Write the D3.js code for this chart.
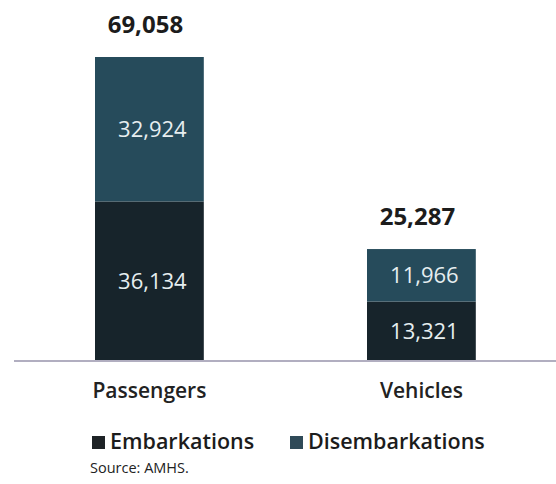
<!DOCTYPE html>
<html>
<head>
<meta charset="utf-8">
<script src="https://cdn.jsdelivr.net/npm/d3@7"></script>
<style>
  html, body { margin: 0; padding: 0; background: #ffffff; }
  svg { display: block; }
  text { font-family: "Open Sans", "Noto Sans", sans-serif; }
</style>
</head>
<body>
<svg id="chart" width="556" height="484"></svg>
<script>
const categories = ["Passengers", "Vehicles"];
const seriesNames = ["Embarkations", "Disembarkations"];
const embarkations = [36134, 13321];
const disembarkations = [32924, 11966];
const totals = [69058, 25287];
const sourceNote = "Source: AMHS.";

const colors = { Embarkations: "#17242b", Disembarkations: "#264b5b" };

const svg = d3.select("#chart");
const baseY = 360;

const rows = categories.map((c, i) => ({
  category: c,
  Embarkations: embarkations[i],
  Disembarkations: disembarkations[i],
  total: totals[i]
}));

const x = d3.scaleBand().domain(categories).range([95, 475.8]).paddingInner(0.6).paddingOuter(0);
const y = d3.scaleLinear().domain([0, d3.max(totals)]).range([baseY, 57]);

const stack = d3.stack().keys(seriesNames);
const layers = stack(rows);

const g = svg.append("g");
layers.forEach(layer => {
  const key = layer.key;
  g.selectAll(null).data(layer).enter().append("rect")
    .attr("x", d => x(d.data.category))
    .attr("width", x.bandwidth())
    .attr("y", d => y(d[1]))
    .attr("height", d => y(d[0]) - y(d[1]))
    .attr("fill", colors[key]);
  g.selectAll(null).data(layer).enter().append("text")
    .attr("x", d => x(d.data.category) + x.bandwidth() / 2 + 3)
    .attr("y", d => (y(d[0]) + y(d[1])) / 2)
    .attr("dy", "0.36em")
    .attr("text-anchor", "middle")
    .attr("font-size", 22)
    .attr("fill", "#e6eef0")
    .text(d => d3.format(",")(d.data[key]));
});

// totals
g.selectAll(null).data(rows).enter().append("text")
  .attr("x", d => x(d.category) + x.bandwidth() / 2 - 4)
  .attr("y", d => y(d.total) - 24)
  .attr("text-anchor", "middle")
  .attr("font-size", 24)
  .attr("font-weight", "bold")
  .attr("fill", "#1c1c1c")
  .text(d => d3.format(",")(d.total));

// baseline axis
svg.append("line")
  .attr("x1", 14).attr("x2", 556)
  .attr("y1", 361).attr("y2", 361)
  .attr("stroke", "#9793ab").attr("stroke-width", 1.5);

// category labels via axis
const axisG = svg.append("g").attr("transform", "translate(0,380)")
  .call(d3.axisBottom(x).tickSize(0).tickPadding(0));
axisG.select(".domain").remove();
axisG.selectAll("text")
  .attr("font-size", 21)
  .attr("font-weight", 600)
  .attr("fill", "#222")
  .attr("dy", "0.85em")
  .style("font-family", "\"Open Sans\", \"Noto Sans\", sans-serif");

// legend
const legendX = [92, 290];
const lg = svg.append("g");
seriesNames.forEach((s, i) => {
  lg.append("rect").attr("x", legendX[i]).attr("y", 436).attr("width", 13).attr("height", 13)
    .attr("fill", i === 0 ? "#1e2326" : "#2f4a58");
  lg.append("text").attr("x", legendX[i] + 18).attr("y", 449)
    .attr("font-size", 21.5).attr("font-weight", 600).attr("fill", "#1c1c1c")
    .text(s);
});

svg.append("text").attr("x", 90).attr("y", 473)
  .attr("font-size", 14.5).attr("fill", "#222")
  .text(sourceNote);
</script>
</body>
</html>
